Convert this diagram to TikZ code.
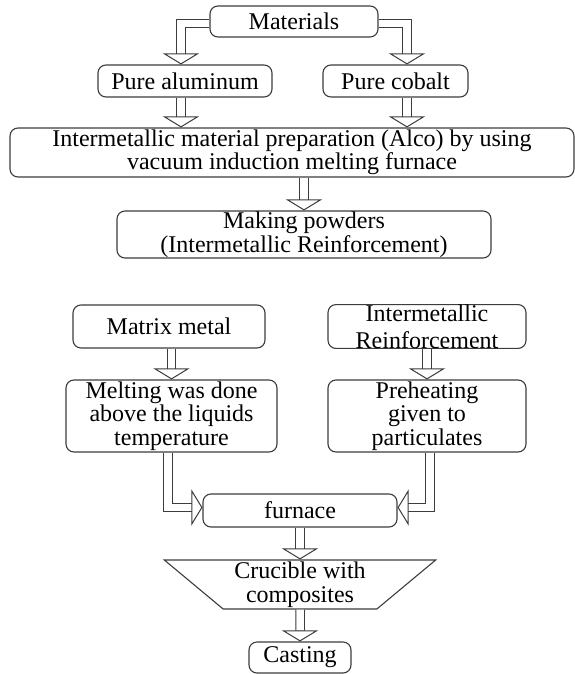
\documentclass[tikz,border=0pt]{standalone}
\usepackage{fontspec}
\setmainfont{Liberation Serif}
\usetikzlibrary{arrows.meta,shapes.geometric}

\definecolor{edgegray}{HTML}{3C3C3C}
\tikzset{
  box/.style={draw=edgegray, line width=1.1pt, rounded corners=8pt, align=center,
    inner sep=0pt, font=\fontsize{24}{23.5}\selectfont},
  flow/.style={draw=edgegray, line width=1pt, double=white, double distance=7.5pt,
    -{Triangle[open, length=11pt, width=36pt]}},
}

\begin{document}
\begin{tikzpicture}[x=1pt, y=-1pt]
\useasboundingbox (0,0) rectangle (575,674);

\node[box, minimum width=168, minimum height=31] (mat) at (294,21.5) {Materials};
\node[box, minimum width=174, minimum height=32] (alu) at (185,81) {Pure aluminum};
\node[box, minimum width=145, minimum height=32] (cob) at (395.5,81) {Pure cobalt};
\node[box, minimum width=564, minimum height=49] (prep) at (292,152.5)
  {Intermetallic material preparation (Alco) by using\\vacuum induction melting furnace};
\node[box, minimum width=374, minimum height=47] (pow) at (304,234.5)
  {Making powders\\(Intermetallic Reinforcement)};

\node[box, minimum width=192, minimum height=43] (mtx) at (169,326.5) {Matrix metal};
\node[box, minimum width=198, minimum height=43, font=\fontsize{24}{27}\selectfont]
  (rein) at (427,326.5) {Intermetallic\\Reinforcement};
\node[box, minimum width=211, minimum height=72] (melt) at (171.5,416)
  {Melting was done\\above the liquids\\temperature};
\node[box, minimum width=198, minimum height=72] (pre) at (427,416)
  {Preheating\\given to\\particulates};
\node[box, minimum width=194, minimum height=33] (fur) at (300,510.5) {furnace};
\node[box, rounded corners=0pt, trapezium, shape border rotate=180, trapezium angle=42,
  trapezium stretches=true, minimum width=272, minimum height=49] (cru) at (300,584.5)
  {Crucible with\\composites};
\node[box, minimum width=102, minimum height=31] (cast) at (300,657.5) {Casting};

\draw[flow] ([yshift=-2]mat.west) -| ([xshift=-4]alu.north);
\draw[flow] ([yshift=-2]mat.east) -| ([xshift=11.5]cob.north);
\draw[flow] ([xshift=-4]alu.south) -- ([xshift=-4]alu.south |- prep.north);
\draw[flow] ([xshift=11.5]cob.south) -- ([xshift=11.5]cob.south |- prep.north);
\draw[flow] (pow.north |- prep.south) -- (pow.north);
\draw[flow] (melt.north |- mtx.south) -- (melt.north);
\draw[flow] (rein) -- (pre);
\draw[flow] ([xshift=-3.5]melt.south) |- ([yshift=3]fur.west);
\draw[flow] ([xshift=3]pre.south) |- ([yshift=3]fur.east);
\draw[flow] (fur) -- (cru);
\draw[flow] (cru) -- (cast);
\end{tikzpicture}
\end{document}
